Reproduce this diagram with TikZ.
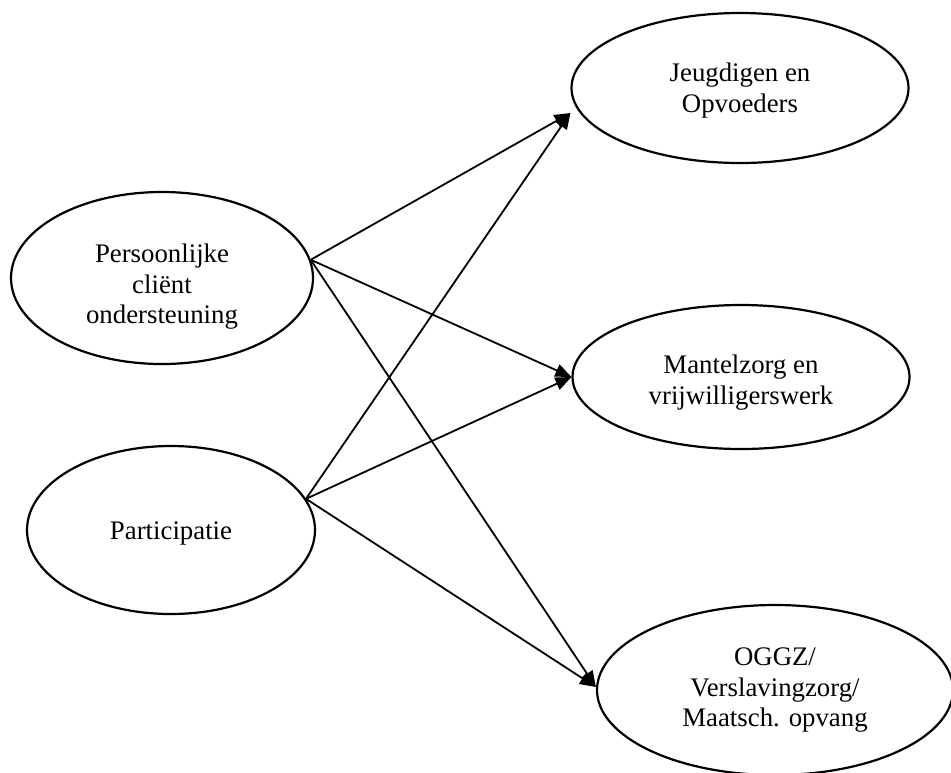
\documentclass[tikz,border=0pt]{standalone}
\usepackage{fontspec}
\setmainfont{Liberation Serif}
\usetikzlibrary{shapes.geometric,arrows.meta}
\newcommand{\lowertext}[2]{\raisebox{#1}[\height][\depth]{#2}}
\begin{document}
\begin{tikzpicture}[x=0.5pt,y=-0.5pt,
  oval/.style={draw=black, line width=1.1pt, ellipse, inner sep=0pt,
    font=\fontsize{13.4}{15.3}\selectfont},
  conn/.style={draw=black, line width=0.9pt, -{Triangle[length=8pt,width=6.5pt]}}]
\useasboundingbox (0,0) rectangle (951,772);
\clip (0,0) rectangle (951,772);
\node[oval, minimum width=151pt, minimum height=86pt] (pers) at (162,278)
  {\lowertext{-4.5pt}{\begin{tabular}{@{}c@{}}Persoonlijke\\cliënt\\ondersteuning\end{tabular}}};
\node[oval, minimum width=144pt, minimum height=84pt] (part) at (171,530)
  {\lowertext{-1.5pt}{Participatie}};
\node[oval, minimum width=168.5pt, minimum height=75pt] (jeugd) at (740,88)
  {\lowertext{-1.5pt}{\begin{tabular}{@{}c@{}}Jeugdigen en\\Opvoeders\end{tabular}}};
\node[oval, minimum width=168.5pt, minimum height=72pt] (mantel) at (741,377)
  {\lowertext{-3pt}{\begin{tabular}{@{}c@{}}Mantelzorg en\\vrijwilligerswerk\end{tabular}}};
\node[oval, minimum width=178pt, minimum height=85pt] (oggz) at (775,690)
  {\begin{tabular}{@{}c@{}}OGGZ/\\Verslavingzorg/\\Maatsch. opvang\end{tabular}};
\draw[conn] (pers.7.7) -- ([yshift=-12.5pt]jeugd.west);
\draw[conn] (pers.7.7) -- (mantel.west);
\draw[conn] (pers.7.7) -- ([yshift=1.5pt]oggz.west);
\draw[conn] (part.13.5) -- ([yshift=-12.5pt]jeugd.west);
\draw[conn] (part.13.5) -- (mantel.west);
\draw[conn] (part.13.5) -- ([yshift=1.5pt]oggz.west);
\end{tikzpicture}
\end{document}
